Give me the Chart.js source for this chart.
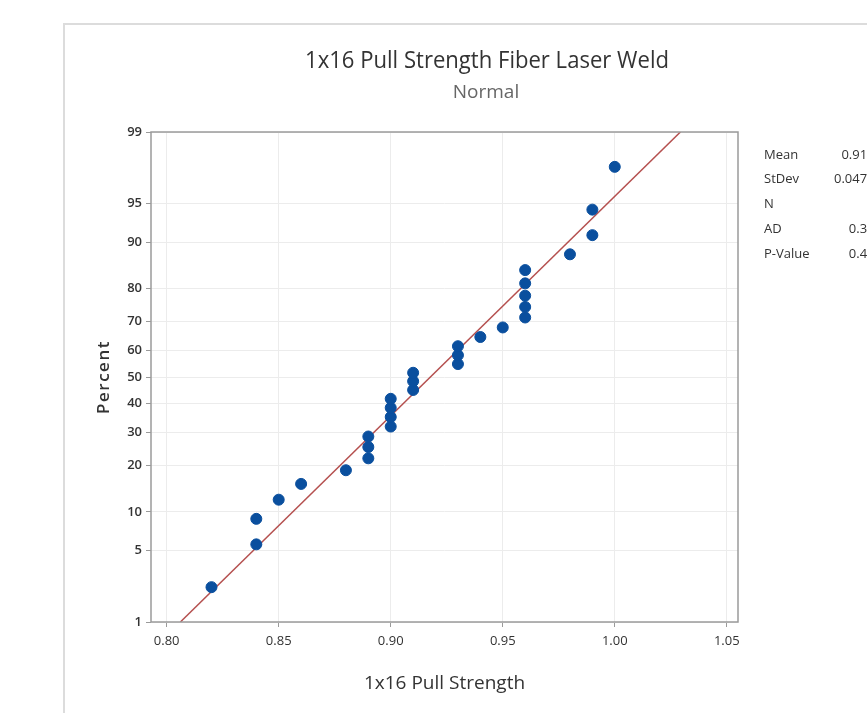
<!DOCTYPE html>
<html>
<head>
<meta charset="utf-8">
<script src="https://cdn.jsdelivr.net/npm/chart.js@4.4.0/dist/chart.umd.min.js"></script>
<style>
  html, body { margin: 0; padding: 0; background: #fff; }
  #wrap { width: 867px; height: 713px; }
</style>
</head>
<body>
<div id="wrap"><canvas id="probPlot" width="867" height="713"></canvas></div>
<script>
// data
const pullStrength = [0.82, 0.84, 0.84, 0.85, 0.86, 0.88, 0.89, 0.89, 0.89, 0.90,
                      0.90, 0.90, 0.90, 0.91, 0.91, 0.91, 0.93, 0.93, 0.93, 0.94,
                      0.95, 0.96, 0.96, 0.96, 0.96, 0.96, 0.98, 0.99, 0.99, 1.00];
const percentPlotted = [2.3, 5.6, 8.9, 12.2, 15.5, 18.8, 22.0, 25.3, 28.6, 31.9,
                        35.2, 38.5, 41.8, 45.1, 48.4, 51.6, 54.9, 58.2, 61.5, 64.8,
                        68.1, 71.4, 74.7, 78.0, 81.3, 84.5, 87.8, 91.1, 94.4, 97.7];
const xTicks = [0.80, 0.85, 0.90, 0.95, 1.00, 1.05];
const percentTicks = [1, 5, 10, 20, 30, 40, 50, 60, 70, 80, 90, 95, 99];
const fitMean = 0.9177;
const fitStDev = 0.04797;
const statLabels = ['Mean', 'StDev', 'N', 'AD', 'P-Value'];
const statValues = ['0.9177', '0.04797', '30', '0.357', '0.447'];

// inverse of the standard normal cdf (Acklam), used for the probability axis
function probit(p) {
  const a = [-39.69683028665376, 220.9460984245205, -275.9285104469687, 138.3577518672690, -30.66479806614716, 2.506628277459239];
  const b = [-54.47609879822406, 161.5858368580409, -155.6989798598866, 66.80131188771972, -13.28068155288572];
  const c = [-0.007784894002430293, -0.3223964580411365, -2.400758277161838, -2.549732539343734, 4.374664141464968, 2.938163982698783];
  const d = [0.007784695709041462, 0.3224671290700398, 2.445134137142996, 3.754408661907416];
  const pl = 0.02425;
  let q, r;
  if (p < pl) {
    q = Math.sqrt(-2 * Math.log(p));
    return (((((c[0]*q+c[1])*q+c[2])*q+c[3])*q+c[4])*q+c[5]) / ((((d[0]*q+d[1])*q+d[2])*q+d[3])*q+1);
  }
  if (p > 1 - pl) {
    q = Math.sqrt(-2 * Math.log(1 - p));
    return -(((((c[0]*q+c[1])*q+c[2])*q+c[3])*q+c[4])*q+c[5]) / ((((d[0]*q+d[1])*q+d[2])*q+d[3])*q+1);
  }
  q = p - 0.5; r = q * q;
  return (((((a[0]*r+a[1])*r+a[2])*r+a[3])*r+a[4])*r+a[5])*q / (((((b[0]*r+b[1])*r+b[2])*r+b[3])*r+b[4])*r+1);
}

const zMin = probit(percentTicks[0] / 100);
const zMax = probit(percentTicks[percentTicks.length - 1] / 100);
const points = pullStrength.map((v, i) => ({ x: v, y: probit(percentPlotted[i] / 100) }));
const fitLine = [zMin, zMax].map(z => ({ x: fitMean + fitStDev * z, y: z }));

const FONT = "'Open Sans', 'Noto Sans', sans-serif";

// panel frame, titles, stats box, plot border
const decor = {
  id: 'decor',
  beforeDraw(chart) {
    const ctx = chart.ctx;
    ctx.save();
    ctx.fillStyle = '#fff';
    ctx.fillRect(0, 0, chart.width, chart.height);
    ctx.strokeStyle = '#dcdcdc';
    ctx.lineWidth = 2;
    ctx.beginPath();
    ctx.moveTo(64, chart.height);
    ctx.lineTo(64, 24);
    ctx.lineTo(chart.width, 24);
    ctx.stroke();
    ctx.restore();
  },
  afterDraw(chart) {
    const ctx = chart.ctx;
    const area = chart.chartArea;
    ctx.save();
    ctx.strokeStyle = '#9a9a9a';
    ctx.lineWidth = 1.5;
    ctx.strokeRect(area.left, area.top, area.right - area.left, area.bottom - area.top);

    ctx.textAlign = 'center';
    ctx.textBaseline = 'middle';
    // title, squeezed a little to look like the narrow original face
    ctx.save();
    ctx.translate(487, 61);
    ctx.scale(0.92, 1);
    ctx.fillStyle = '#333';
    ctx.font = '500 24px ' + FONT;
    ctx.fillText('1x16 Pull Strength Fiber Laser Weld', 0, 0);
    ctx.restore();
    ctx.fillStyle = '#666';
    ctx.font = '19px ' + FONT;
    ctx.fillText('Normal', 486, 93);

    // y axis title
    ctx.save();
    ctx.translate(104, (area.top + area.bottom) / 2);
    ctx.rotate(-Math.PI / 2);
    ctx.fillStyle = '#333';
    ctx.font = '600 17px ' + FONT;
    ctx.letterSpacing = '1.5px';
    ctx.fillText('Percent', 0, 0);
    ctx.restore();

    ctx.font = '13px ' + FONT;
    ctx.fillStyle = '#333';
    statLabels.forEach((lab, i) => {
      const y = 155 + i * 24.7;
      ctx.textAlign = 'left';
      ctx.fillText(lab, 764, y);
      ctx.textAlign = 'right';
      ctx.fillText(statValues[i], 882, y);
    });
    ctx.restore();
  }
};

new Chart(document.getElementById('probPlot').getContext('2d'), {
  type: 'scatter',
  data: {
    datasets: [
      {
        label: 'Fit',
        type: 'line',
        data: fitLine,
        borderColor: '#b5504f',
        borderWidth: 1.5,
        pointRadius: 0,
        fill: false,
        order: 2
      },
      {
        label: '1x16 Pull Strength',
        data: points,
        backgroundColor: '#0a4f9e',
        borderColor: '#0a4f9e',
        pointRadius: 5.5,
        pointHoverRadius: 5.5,
        order: 1
      }
    ]
  },
  options: {
    responsive: false,
    animation: false,
    layout: { padding: { left: 80, right: 129, top: 132, bottom: 0 } },
    plugins: {
      legend: { display: false },
      tooltip: { enabled: false }
    },
    scales: {
      x: {
        type: 'linear',
        min: 0.793,
        max: 1.055,
        afterBuildTicks: s => { s.ticks = xTicks.map(v => ({ value: v })); },
        afterFit: s => { s.height = 91; },
        grid: { color: '#ececec', tickColor: '#9a9a9a', tickLength: 5, drawTicks: true },
        border: { display: false },
        ticks: {
          color: '#333',
          font: { family: FONT, size: 13 },
          padding: 6,
          maxRotation: 0,
          callback: v => v.toFixed(2)
        },
        title: {
          display: true,
          text: '1x16 Pull Strength',
          color: '#333',
          font: { family: FONT, size: 19 },
          padding: { top: 0, bottom: 18 }
        }
      },
      y: {
        type: 'linear',
        min: zMin,
        max: zMax,
        afterBuildTicks: s => { s.ticks = percentTicks.map(p => ({ value: probit(p / 100) })); },
        afterFit: s => { s.width = 71; },
        grid: { color: '#ececec', tickColor: '#9a9a9a', tickLength: 5, drawTicks: true },
        border: { display: false },
        ticks: {
          color: '#333',
          font: { family: FONT, size: 13, weight: '600' },
          padding: 4,
          callback: (v, i) => String(percentTicks[i])
        },
        title: { display: false }
      }
    }
  },
  plugins: [decor]
});
</script>
</body>
</html>
